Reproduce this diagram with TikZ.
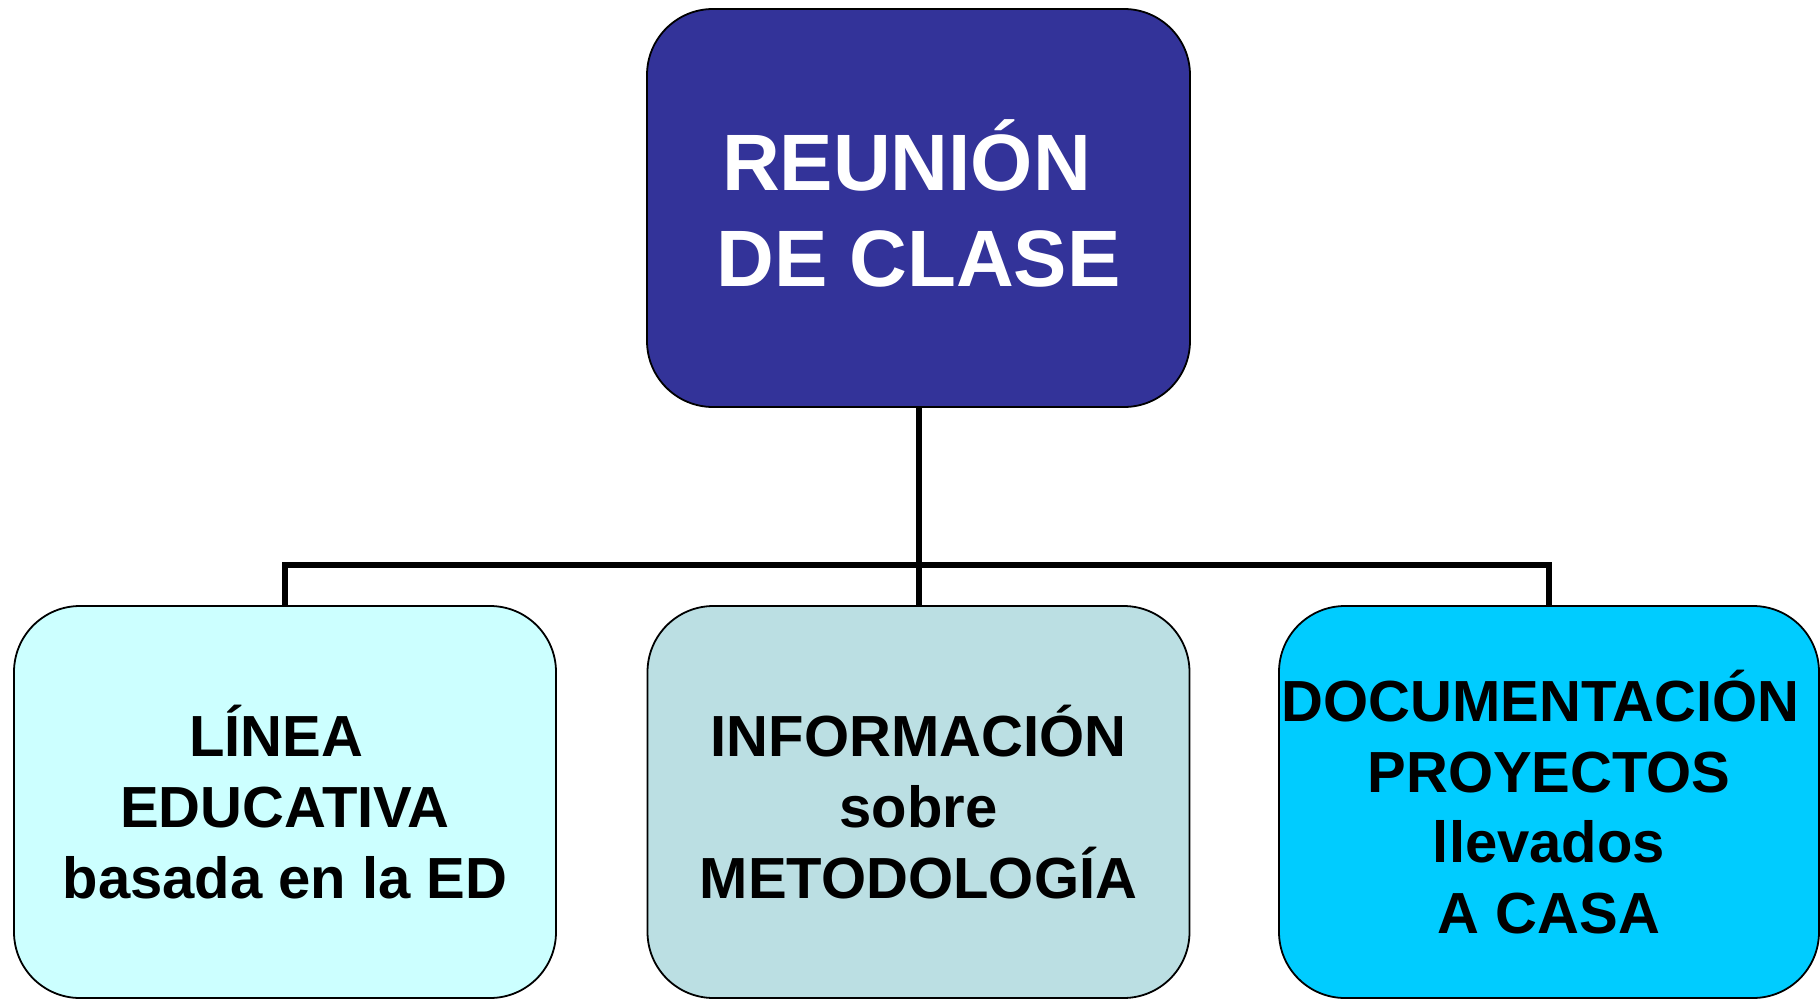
\documentclass[tikz,border=0pt]{standalone}
\usepackage{fontspec}
\setmainfont{Liberation Sans}
\usepackage{xcolor}
\usepackage{tikz}
\usetikzlibrary{positioning}

\definecolor{reunionblue}{HTML}{333399}
\definecolor{lineacyan}{HTML}{CCFFFF}
\definecolor{infogray}{HTML}{BBDFE3}
\definecolor{docucyan}{HTML}{00CCFF}
\newcommand{\tsp}{\hspace*{0.3em}}

\begin{document}
\begin{tikzpicture}[x=0.5pt,y=-0.5pt,
  topbox/.style={draw,line width=0.9pt,rounded corners=33pt,fill=reunionblue,
    text=white,minimum width=271.5pt,minimum height=199pt,inner sep=0pt,
    align=center,font=\fontsize{40}{47.6}\selectfont\bfseries},
  subbox/.style={draw,line width=0.9pt,rounded corners=33pt,
    minimum width=271pt,minimum height=196pt,inner sep=0pt,
    align=center,font=\fontsize{29}{35.4}\selectfont\bfseries},
  link/.style={line width=3pt}]
  \useasboundingbox (0,0) rectangle (1820,1000);
  \node[topbox] (R) at (918.5,208) {REUNIÓN\tsp\\DE CLASE\rule[-5pt]{0pt}{0pt}};
  \node[subbox,fill=lineacyan] (L) at (285,802) {LÍNEA\tsp\\EDUCATIVA\tsp\\basada en la ED};
  \node[subbox,fill=infogray] (I) at (918.5,802) {INFORMACIÓN\\sobre\tsp\\METODOLOGÍA};
  \node[subbox,fill=docucyan,minimum width=270pt] (D) at (1549,802) {DOCUMENTACIÓN\tsp\\PROYECTOS\tsp\\llevados\\A CASA};
  \coordinate (hub) at (918.5,565);
  \draw[link] (R.south) -- (hub);
  \draw[link] (hub) -| (L.north);
  \draw[link] (hub) -- (I.north);
  \draw[link] (hub) -| (D.north);
\end{tikzpicture}
\end{document}
